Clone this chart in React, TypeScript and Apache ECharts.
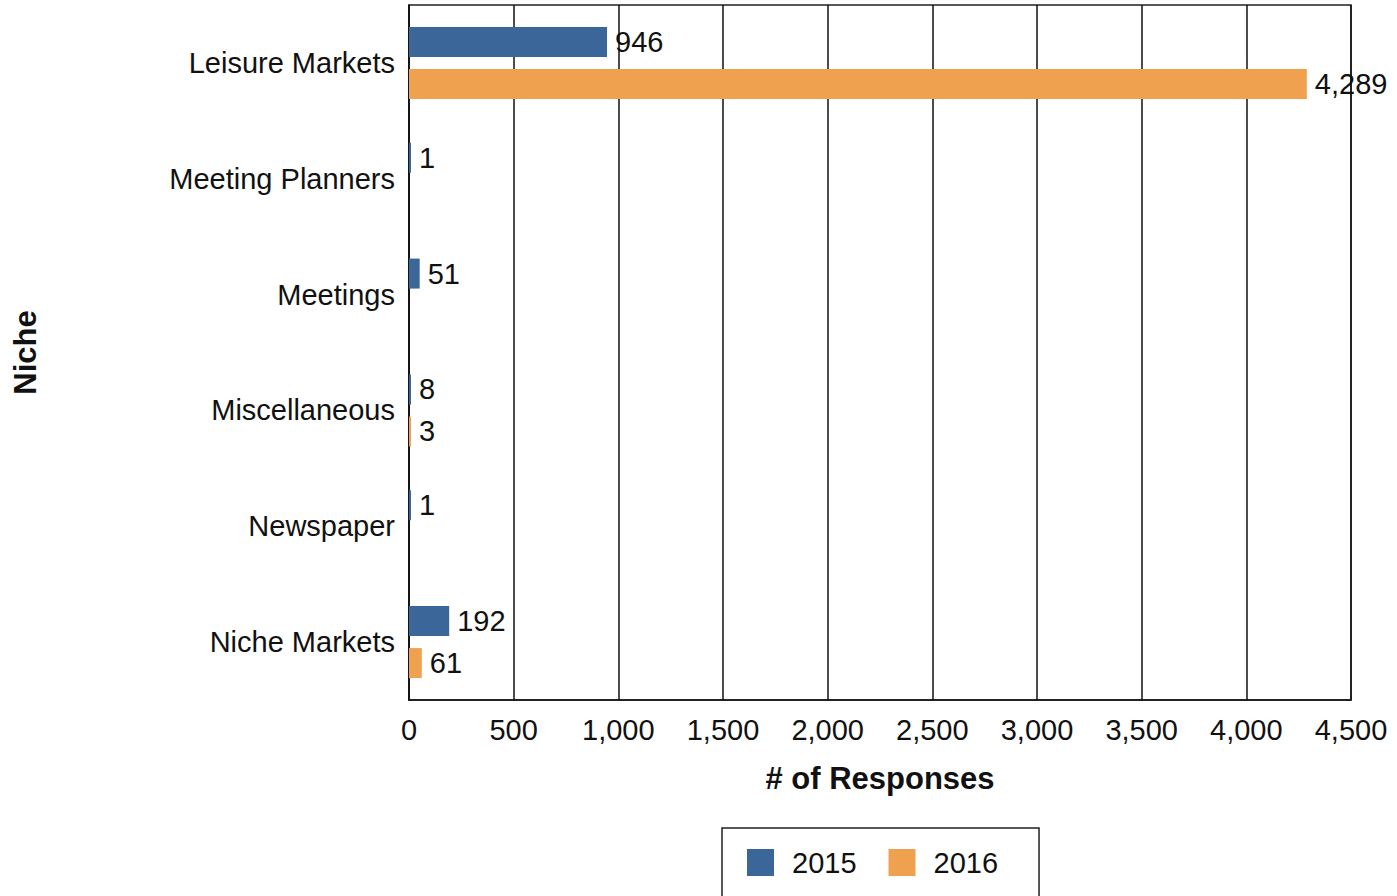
import React, { useEffect, useRef } from "react";
import * as echarts from "echarts";

const categories = ["Leisure Markets", "Meeting Planners", "Meetings", "Miscellaneous", "Newspaper", "Niche Markets"];
const values2015: (number | null)[] = [946, 1, 51, 8, 1, 192];
const values2016: (number | null)[] = [4289, null, null, 3, null, 61];
const xTicks = [0, 500, 1000, 1500, 2000, 2500, 3000, 3500, 4000, 4500];

const FONT = "'Liberation Sans', Arial, sans-serif";
const FS = 29;
const TITLE_FS = 31;

export default function App() {
  const ref = useRef<HTMLDivElement>(null);
  useEffect(() => {
    const chart = echarts.init(ref.current!, null, { renderer: "svg" });
    const fmt = (v: number) => v.toLocaleString("en-US");
    const label = {
      show: true,
      position: "right" as const,
      distance: 8,
      color: "#111",
      fontSize: FS,
      fontFamily: FONT,
      formatter: (p: any) => (p.value == null ? "" : fmt(p.value)),
    };
    chart.setOption({
      animation: false,
      textStyle: { fontFamily: FONT },
      grid: {
        left: 409,
        top: 5,
        width: 942,
        height: 695,
        show: true,
        borderColor: "#222",
        borderWidth: 1.5,
        containLabel: false,
      },
      legend: {
        left: 722,
        top: 828,
        orient: "horizontal",
        data: ["2015", "2016"],
        icon: "rect",
        itemWidth: 27,
        itemHeight: 27,
        itemGap: 32,
        borderColor: "#222",
        borderWidth: 1.5,
        padding: [20, 41, 40, 25],
        textStyle: { fontSize: FS, color: "#111", fontFamily: FONT, padding: [0, 0, 0, 13] },
      },
      xAxis: {
        type: "value",
        min: xTicks[0],
        max: xTicks[xTicks.length - 1],
        interval: 500,
        name: "# of Responses",
        nameLocation: "middle",
        nameGap: 63,
        nameTextStyle: { fontSize: TITLE_FS, fontWeight: "bold", color: "#111", fontFamily: FONT },
        axisLine: { show: true, lineStyle: { color: "#111", width: 1.5 } },
        axisTick: { show: false },
        axisLabel: { fontSize: FS, color: "#111", margin: 15, formatter: (v: number) => fmt(v) },
        splitLine: { show: true, lineStyle: { color: "#111", width: 1.5 } },
      },
      yAxis: {
        type: "category",
        data: categories,
        inverse: true,
        name: "Niche",
        nameLocation: "middle",
        nameGap: 368,
        nameRotate: 90,
        nameTextStyle: { fontSize: TITLE_FS, fontWeight: "bold", color: "#111", fontFamily: FONT },
        axisLine: { show: true, lineStyle: { color: "#111", width: 1.5 } },
        axisTick: { show: false },
        axisLabel: { fontSize: FS, color: "#111", margin: 14 },
        splitLine: { show: false },
      },
      series: [
        {
          name: "2015",
          type: "bar",
          data: values2015,
          barWidth: 30,
          barGap: "40%",
          barMinHeight: 2,
          itemStyle: { color: "#3A6699" },
          label,
        },
        {
          name: "2016",
          type: "bar",
          data: values2016,
          barWidth: 30,
          barMinHeight: 2,
          itemStyle: { color: "#F0A150" },
          label,
        },
      ],
    });
    return () => chart.dispose();
  }, []);
  return <div ref={ref} style={{ position: "fixed", left: 0, top: 0, width: 1397, height: 896, background: "#fff" }} />;
}
